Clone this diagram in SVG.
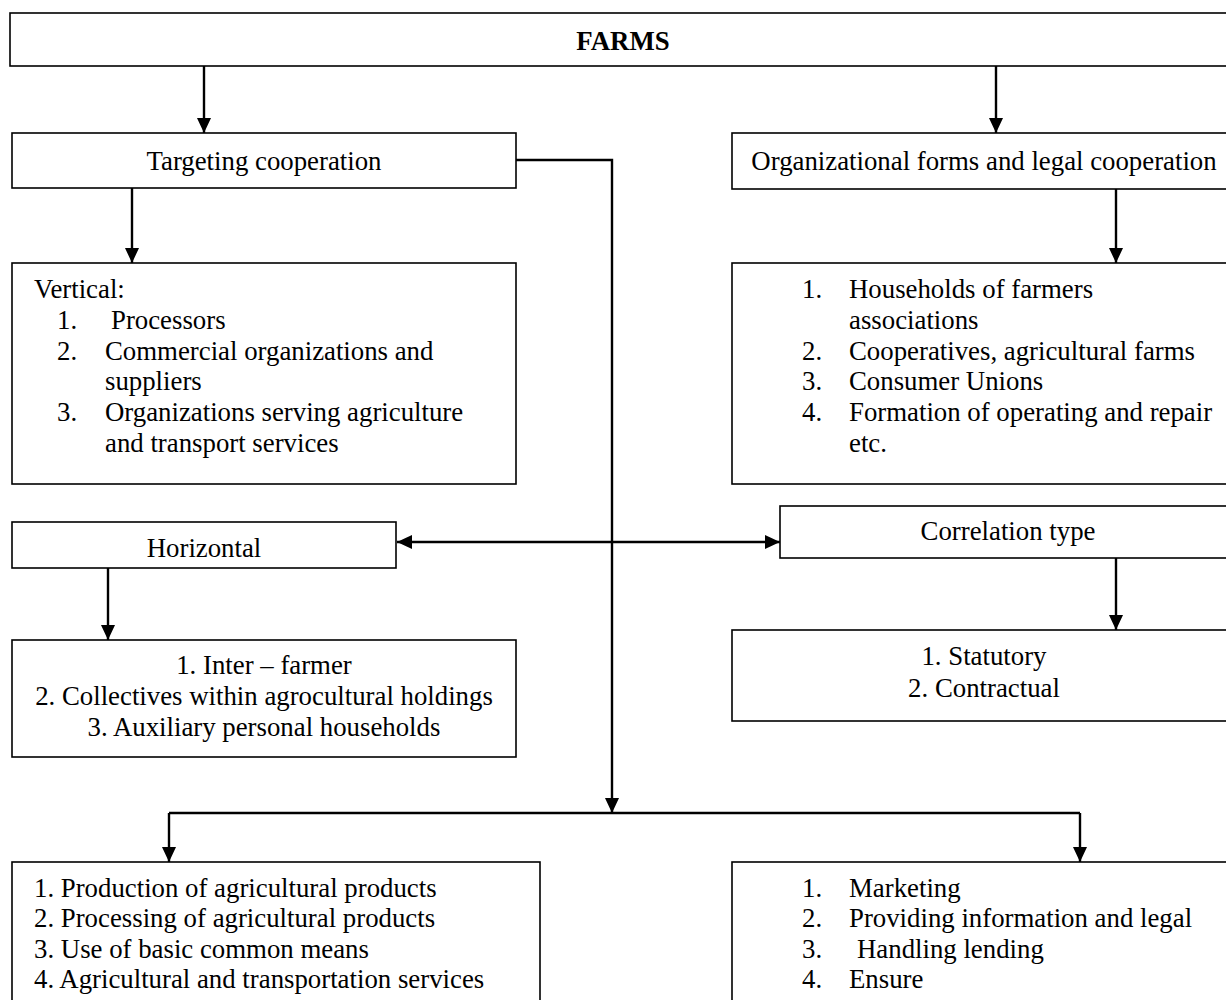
<svg xmlns="http://www.w3.org/2000/svg" width="1226" height="1000" viewBox="0 0 1226 1000">
<style>
.box{fill:#fff;stroke:#000;stroke-width:1.6}
.t{font-family:"Liberation Serif","Times New Roman",serif;font-size:26.8px;fill:#000}
.c{text-anchor:middle}
.b{font-weight:bold}
.con{fill:none;stroke:#000;stroke-width:2.4}
</style>
<defs>
<marker id="ah" markerUnits="userSpaceOnUse" markerWidth="16" markerHeight="14" refX="15" refY="7" orient="auto">
<path d="M0,0 L15,7 L0,14 Z" fill="#000"/>
</marker>
</defs>
<rect width="1226" height="1000" fill="#fff"/>
<g id="farms"><rect class="box" x="10" y="13" width="1230" height="53"/><text class="t c b" x="623" y="50">FARMS</text></g>
<g id="targeting"><rect class="box" x="12" y="133" width="504" height="55"/><text class="t c" x="264" y="170">Targeting cooperation</text></g>
<g id="organizational"><rect class="box" x="732" y="133" width="508" height="56"/><text class="t c" x="984" y="170">Organizational forms and legal cooperation</text></g>
<g id="vertical"><rect class="box" x="12" y="263" width="504" height="221"/>
<text class="t" x="34" y="298">Vertical:</text>
<text class="t" x="57" y="329">1.</text><text class="t" x="111" y="329">Processors</text>
<text class="t" x="57" y="360">2.</text><text class="t" x="105" y="360">Commercial organizations and</text>
<text class="t" x="105" y="390">suppliers</text>
<text class="t" x="57" y="421">3.</text><text class="t" x="105" y="421">Organizations serving agriculture</text>
<text class="t" x="105" y="452">and transport services</text>
</g>
<g id="legalforms"><rect class="box" x="732" y="263" width="508" height="221"/>
<text class="t" x="802" y="298">1.</text><text class="t" x="849" y="298">Households of farmers</text>
<text class="t" x="849" y="329">associations</text>
<text class="t" x="802" y="360">2.</text><text class="t" x="849" y="360">Cooperatives, agricultural farms</text>
<text class="t" x="802" y="390">3.</text><text class="t" x="849" y="390">Consumer Unions</text>
<text class="t" x="802" y="421">4.</text><text class="t" x="849" y="421">Formation of operating and repair</text>
<text class="t" x="849" y="452">etc.</text>
</g>
<g id="horizontal"><rect class="box" x="12" y="522" width="384" height="46"/><text class="t c" x="204" y="557">Horizontal</text></g>
<g id="correlation"><rect class="box" x="780" y="506" width="460" height="52"/><text class="t c" x="1008" y="540">Correlation type</text></g>
<g id="horizontal-list"><rect class="box" x="12" y="640" width="504" height="117"/>
<text class="t c" x="264" y="674">1. Inter – farmer</text>
<text class="t c" x="264" y="705">2. Collectives within agrocultural holdings</text>
<text class="t c" x="264" y="736">3. Auxiliary personal households</text>
</g>
<g id="correlation-list"><rect class="box" x="732" y="630" width="508" height="91"/>
<text class="t c" x="984" y="665">1. Statutory</text>
<text class="t c" x="984" y="697">2. Contractual</text>
</g>
<g id="activities"><rect class="box" x="12" y="862" width="528" height="150"/>
<text class="t" x="34" y="897">1. Production of agricultural products</text>
<text class="t" x="34" y="927">2. Processing of agricultural products</text>
<text class="t" x="34" y="958">3. Use of basic common means</text>
<text class="t" x="34" y="988">4. Agricultural and transportation services</text>
</g>
<g id="services"><rect class="box" x="732" y="862" width="508" height="150"/>
<text class="t" x="802" y="897">1.</text><text class="t" x="849" y="897">Marketing</text>
<text class="t" x="802" y="927">2.</text><text class="t" x="849" y="927">Providing information and legal</text>
<text class="t" x="802" y="958">3.</text><text class="t" x="857" y="958">Handling lending</text>
<text class="t" x="802" y="988">4.</text><text class="t" x="849" y="988">Ensure</text>
</g>
<g id="connectors">
<path class="con" d="M204,66 V133" marker-end="url(#ah)"/>
<path class="con" d="M996,66 V133" marker-end="url(#ah)"/>
<path class="con" d="M132,188 V263" marker-end="url(#ah)"/>
<path class="con" d="M1116,189 V263" marker-end="url(#ah)"/>
<path class="con" d="M516,160 H612 V813" marker-end="url(#ah)"/>
<path class="con" d="M169,813 H1080"/>
<path class="con" d="M169,813 V862" marker-end="url(#ah)"/>
<path class="con" d="M1080,813 V862" marker-end="url(#ah)"/>
<path class="con" d="M612,542 H397" marker-end="url(#ah)"/>
<path class="con" d="M612,542 H780" marker-end="url(#ah)"/>
<path class="con" d="M108,568 V640" marker-end="url(#ah)"/>
<path class="con" d="M1116,558 V630" marker-end="url(#ah)"/>
</g>
</svg>
